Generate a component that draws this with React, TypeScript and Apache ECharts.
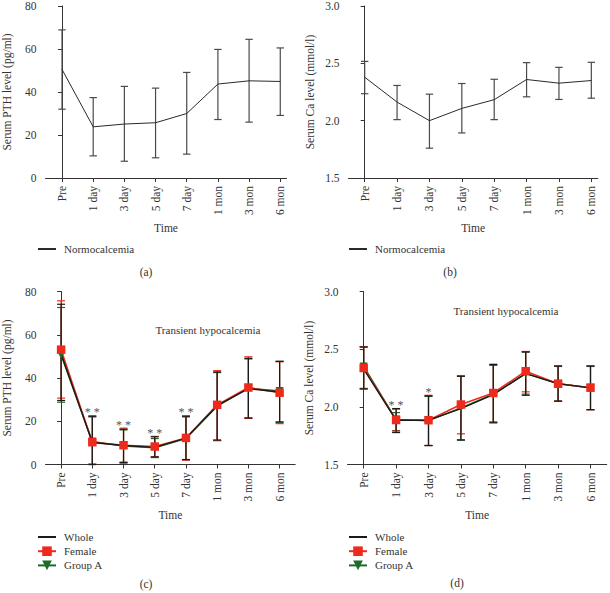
import React, { useEffect, useRef } from "react";
import * as echarts from "echarts";

const categories = ["Pre", "1 day", "3 day", "5 day", "7 day", "1 mon", "3 mon", "6 mon"];

// (a) PTH, normocalcemia
const pthNormMean = [50.5, 23.8, 25.1, 25.7, 30.0, 43.7, 45.2, 44.9];
const pthNormUpper = [68.9, 37.4, 42.6, 41.8, 49.1, 59.8, 64.5, 60.5];
const pthNormLower = [32.0, 10.3, 7.8, 9.4, 11.1, 27.2, 26.0, 29.1];

// (b) Ca, normocalcemia
const caNormMean = [2.379, 2.162, 2.0, 2.107, 2.183, 2.359, 2.327, 2.35];
const caNormUpper = [2.517, 2.307, 2.231, 2.324, 2.361, 2.506, 2.465, 2.509];
const caNormLower = [2.235, 2.009, 1.76, 1.893, 2.009, 2.208, 2.185, 2.196];

// (c) PTH, transient hypocalcemia
const pthWholeMean = [51.2, 10.2, 8.8, 7.9, 12.2, 27.2, 35.1, 33.5];
const pthWholeUpper = [74.1, 22.3, 16.3, 12.8, 22.3, 42.8, 49.1, 47.7];
const pthWholeLower = [29.6, 0.0, 1.0, 3.5, 2.3, 11.3, 21.5, 19.7];
const pthFemaleMean = [53.1, 10.3, 8.9, 8.3, 12.3, 27.6, 35.6, 33.2];
const pthFemaleUpper = [75.7, 22.5, 16.8, 13.0, 22.5, 43.4, 49.8, 47.5];
const pthFemaleLower = [30.7, 0.0, 1.0, 3.6, 2.0, 11.0, 21.3, 18.9];
const pthGroupAMean = [50.6, 10.6, 8.5, 7.7, 12.0, 27.0, 35.3, 34.0];
const pthGroupAUpper = [72.6, 22.0, 16.0, 12.0, 22.0, 42.5, 48.8, 47.7];
const pthGroupALower = [28.8, 0.2, 0.6, 3.2, 2.2, 11.2, 21.5, 19.5];
const pthMarks = ["", "**", "**", "**", "**", "", "", ""];

// (d) Ca, transient hypocalcemia
const caWholeMean = [2.326, 1.884, 1.884, 1.985, 2.106, 2.288, 2.201, 2.164];
const caWholeUpper = [2.519, 1.985, 2.095, 2.265, 2.366, 2.476, 2.354, 2.354];
const caWholeLower = [2.155, 1.777, 1.664, 1.711, 1.861, 2.1, 2.049, 1.976];
const caFemaleMean = [2.337, 1.886, 1.884, 2.02, 2.12, 2.309, 2.2, 2.166];
const caFemaleUpper = [2.52, 1.98, 2.1, 2.27, 2.37, 2.48, 2.355, 2.355];
const caFemaleLower = [2.155, 1.79, 1.665, 1.766, 1.87, 2.13, 2.05, 1.975];
const caGroupAMean = [2.35, 1.89, 1.88, 1.99, 2.11, 2.29, 2.2, 2.165];
const caGroupAUpper = [2.52, 1.95, 2.09, 2.265, 2.36, 2.475, 2.35, 2.35];
const caGroupALower = [2.16, 1.794, 1.665, 1.715, 1.865, 2.11, 2.05, 1.975];
const caMarks = ["", "**", "*", "", "", "", "", ""];

const FONT = '"Liberation Serif", "Times New Roman", serif';
const TXT = "#333";
const AX = "#333";
const RED = "#ee2a1c";
const GREEN = "#1d6b2a";
const BLACK = "#1a1a1a";

const pts = (vals: number[]) => vals.map((v, i) => [i, v]);
const errData = (lo: number[], hi: number[]) => lo.map((l, i) => [i, l, hi[i]]);

function errSeries(name: string, idx: number, lo: number[], hi: number[], color: string, lw: number, capW: number, marks?: string[]) {
  return {
    type: "custom",
    name,
    xAxisIndex: idx,
    yAxisIndex: idx,
    data: errData(lo, hi),
    silent: true,
    renderItem: (params: any, api: any) => {
      const x = api.value(0);
      const pLo = api.coord([x, api.value(1)]);
      const pHi = api.coord([x, api.value(2)]);
      const style = { stroke: color, lineWidth: lw, fill: "none" };
      const children: any[] = [
        { type: "line", shape: { x1: pLo[0], y1: pLo[1], x2: pHi[0], y2: pHi[1] }, style },
        { type: "line", shape: { x1: pHi[0] - capW, y1: pHi[1], x2: pHi[0] + capW, y2: pHi[1] }, style },
        { type: "line", shape: { x1: pLo[0] - capW, y1: pLo[1], x2: pLo[0] + capW, y2: pLo[1] }, style },
      ];
      const m = marks ? marks[params.dataIndex] : "";
      if (m) {
        children.push({
          type: "text",
          x: pHi[0],
          y: pHi[1] + 2,
          style: {
            text: m.split("").join(" "),
            textAlign: "center",
            textVerticalAlign: "bottom",
            fill: "#555",
            font: `12px ${FONT}`,
          },
        });
      }
      return { type: "group", children };
    },
  };
}

function axes(idx: number, xMin: number, xMax: number, yMin: number, yMax: number, yInt: number, yName: string, dec: number) {
  const x = {
    type: "value",
    gridIndex: idx,
    min: xMin,
    max: xMax,
    name: "Time",
    nameLocation: "middle",
    nameGap: 44,
    nameTextStyle: { fontFamily: FONT, fontSize: 11.5, color: TXT, fontWeight: "normal" },
    splitLine: { show: false },
    axisLine: { show: true, onZero: false, lineStyle: { color: AX, width: 1 } },
    axisTick: { show: true, length: 4, customValues: categories.map((_, i) => i), lineStyle: { color: AX } },
    axisLabel: {
      customValues: categories.map((_, i) => i),
      formatter: (v: number) => categories[Math.round(v)] ?? "",
      rotate: 90,
      margin: 8,
      fontFamily: FONT,
      fontSize: 11.5,
      color: TXT,
    },
  };
  const y = {
    type: "value",
    gridIndex: idx,
    min: yMin,
    max: yMax,
    interval: yInt,
    name: yName,
    nameLocation: "middle",
    nameGap: 32.5,
    nameTextStyle: { fontFamily: FONT, fontSize: 11.5, color: TXT, fontWeight: "normal" },
    splitLine: { show: false },
    axisLine: { show: true, lineStyle: { color: AX, width: 1 } },
    axisTick: { show: true, length: 4, lineStyle: { color: AX } },
    axisLabel: {
      margin: 9,
      fontFamily: FONT,
      fontSize: 11.5,
      color: TXT,
      formatter: (v: number) => v.toFixed(dec),
    },
  };
  return { x, y };
}

function lineSeries(name: string, idx: number, vals: number[], color: string, lw: number, symbol: string, size: number, rotate = 0) {
  return {
    type: "line",
    name,
    xAxisIndex: idx,
    yAxisIndex: idx,
    data: pts(vals),
    symbol,
    symbolSize: size,
    symbolRotate: rotate,
    showSymbol: symbol !== "none",
    lineStyle: { color, width: lw },
    itemStyle: { color },
    silent: true,
  };
}

export default function App() {
  const ref = useRef<HTMLDivElement>(null);
  useEffect(() => {
    if (!ref.current) return;
    const chart = echarts.init(ref.current, null, { renderer: "svg" });
    const a = axes(0, -0.53, 7.2, 0, 80, 20, "Serum PTH level (pg/ml)", 0);
    const b = axes(1, -0.5, 7.2, 1.5, 3.0, 0.5, "Serum Ca level (mmol/l)", 1);
    const c = axes(2, -0.5, 7.5, 0, 80, 20, "Serum PTH level (pg/ml)", 0);
    const d = axes(3, -0.5, 7.5, 1.5, 3.0, 0.5, "Serum Ca level (mmol/l)", 1);
    const legendBase = {
      orient: "vertical",
      padding: 0,
      itemWidth: 18,
      itemHeight: 12,
      itemGap: 2.2,
      selectedMode: false,
      textStyle: { fontFamily: FONT, fontSize: 11, color: TXT, lineHeight: 12, padding: [0, 0, 0, 3] },
    };
    const hideSym = (name: string) => ({ name, itemStyle: { opacity: 0 } });
    const option: any = {
      animation: false,
      backgroundColor: "#fff",
      grid: [
        { left: 36, top: 5, width: 250.5, height: 173 },
        { left: 348.5, top: 5, width: 249.3, height: 173 },
        { left: 36, top: 291.5, width: 259.2, height: 173 },
        { left: 347.5, top: 291.5, width: 259.2, height: 173 },
      ],
      xAxis: [a.x, b.x, c.x, d.x],
      yAxis: [a.y, b.y, c.y, d.y],
      legend: [
        { ...legendBase, left: 37, top: 243, data: [hideSym("Normocalcemia")] },
        { ...legendBase, left: 348, top: 243, data: [hideSym("Normocalcemia")] },
        { ...legendBase, left: 37, top: 531, data: [hideSym("Whole"), "Female", "Group A"] },
        { ...legendBase, left: 348, top: 531, data: [hideSym("Whole"), "Female", "Group A"] },
      ],
      graphic: [
        { type: "text", x: 146, y: 272, style: { text: "(a)", textAlign: "center", textVerticalAlign: "middle", font: `11.5px ${FONT}`, fill: TXT } },
        { type: "text", x: 450, y: 272, style: { text: "(b)", textAlign: "center", textVerticalAlign: "middle", font: `11.5px ${FONT}`, fill: TXT } },
        { type: "text", x: 146, y: 584, style: { text: "(c)", textAlign: "center", textVerticalAlign: "middle", font: `11.5px ${FONT}`, fill: TXT } },
        { type: "text", x: 457, y: 583, style: { text: "(d)", textAlign: "center", textVerticalAlign: "middle", font: `11.5px ${FONT}`, fill: TXT } },
        { type: "text", x: 208, y: 330, style: { text: "Transient hypocalcemia", textAlign: "center", textVerticalAlign: "middle", font: `11px ${FONT}`, fill: TXT } },
        { type: "text", x: 506, y: 311, style: { text: "Transient hypocalcemia", textAlign: "center", textVerticalAlign: "middle", font: `11px ${FONT}`, fill: TXT } },
      ],
      series: [
        errSeries("errA", 0, pthNormLower, pthNormUpper, "#4a4a4a", 1.2, 3.7),
        lineSeries("Normocalcemia", 0, pthNormMean, "#2a2a2a", 1, "none", 0),
        errSeries("errB", 1, caNormLower, caNormUpper, "#4a4a4a", 1.2, 3.7),
        lineSeries("Normocalcemia", 1, caNormMean, "#2a2a2a", 1, "none", 0),

        errSeries("errCg", 2, pthGroupALower, pthGroupAUpper, GREEN, 1.2, 4),
        lineSeries("Group A", 2, pthGroupAMean, GREEN, 1.5, "triangle", 8, 180),
        errSeries("errCf", 2, pthFemaleLower, pthFemaleUpper, RED, 1.2, 4),
        lineSeries("Female", 2, pthFemaleMean, RED, 1.5, "rect", 8.5),
        errSeries("errCw", 2, pthWholeLower, pthWholeUpper, BLACK, 1.2, 4, pthMarks),
        lineSeries("Whole", 2, pthWholeMean, BLACK, 1.4, "none", 0),

        errSeries("errDg", 3, caGroupALower, caGroupAUpper, GREEN, 1.2, 4),
        lineSeries("Group A", 3, caGroupAMean, GREEN, 1.5, "triangle", 8, 180),
        errSeries("errDf", 3, caFemaleLower, caFemaleUpper, RED, 1.2, 4),
        lineSeries("Female", 3, caFemaleMean, RED, 1.5, "rect", 8.5),
        errSeries("errDw", 3, caWholeLower, caWholeUpper, BLACK, 1.2, 4, caMarks),
        lineSeries("Whole", 3, caWholeMean, BLACK, 1.4, "none", 0),
      ],
    };
    chart.setOption(option);
    return () => chart.dispose();
  }, []);
  return <div ref={ref} style={{ position: "fixed", left: 0, top: 0, width: 610, height: 593 }} />;
}
